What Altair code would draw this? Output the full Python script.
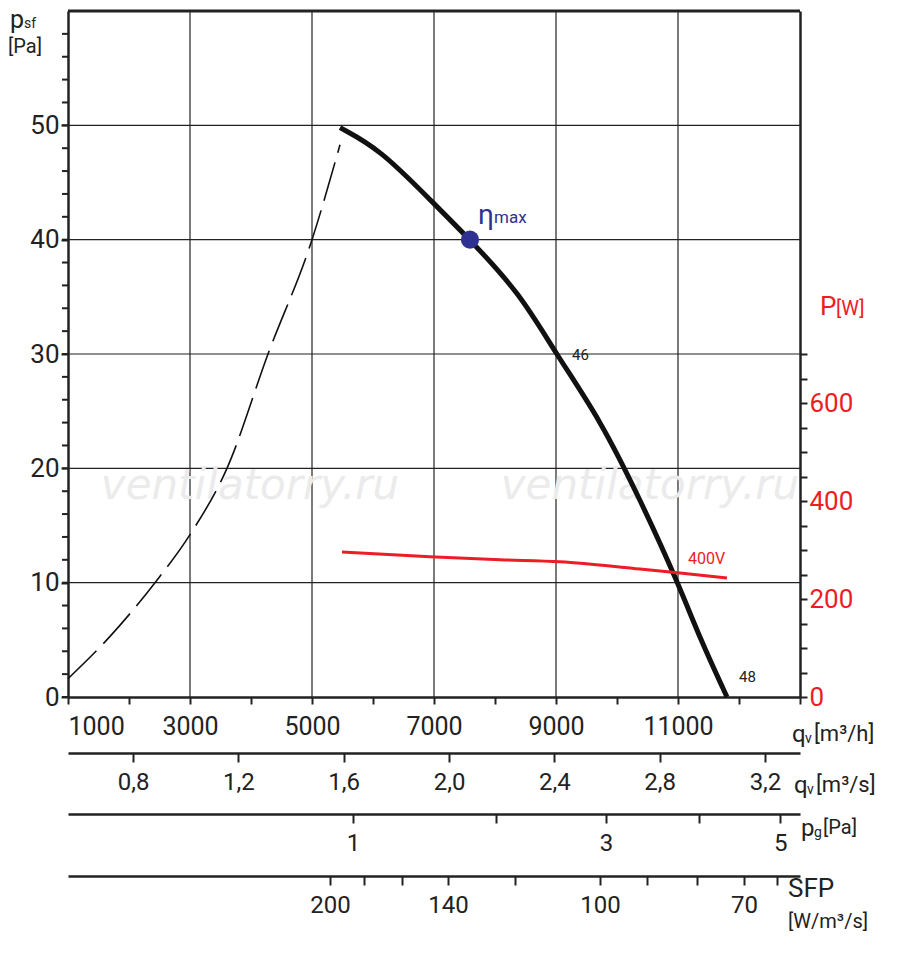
import pandas as pd
import altair as alt

FONT = "Roboto"

# characteristic, static pressure p_sf [Pa] vs air flow q_v [m3/h]
unstable_q = [1000, 1689, 2426, 3000, 3606, 4279, 5000, 5459]
unstable_p = [1.6, 5.3, 10.0, 14.2, 20.0, 30.0, 40.0, 48.3]
curve_q = [5459, 6115, 6934, 7590, 8410, 9000, 9721, 10377, 11000, 11361, 11803]
curve_p = [49.8, 47.9, 43.5, 40.0, 35.3, 30.0, 24.3, 17.3, 10.0, 5.1, 0.0]
# power P [W] at 400V
power_q = [5492, 6934, 8082, 9066, 10377, 11033, 11803]
power_w = [296, 286, 280, 276, 261, 253, 243]
eta_q, eta_p = 7590, 40

x_grid = [3000, 5000, 7000, 9000, 11000]
y_grid = [10, 20, 30, 40, 50]
y_labels = [0, 10, 20, 30, 40, 50]
x_ticks = list(range(1000, 13001, 500))
y_minor = list(range(0, 60, 2))
p_ticks = list(range(0, 701, 50))
qs_ticks = [0.8, 1.2, 1.6, 2.0, 2.4, 2.8, 3.2]
pg_ticks = [1, 2, 3, 4, 5]
sfp_ticks = [200, 180, 160, 140, 120, 100, 90, 80, 70, 65]

W, H = 732, 686
xs = alt.Scale(domain=[1000, 13000], nice=False, zero=False)
ys = alt.Scale(domain=[0, 60], nice=False)
ps = alt.Scale(domain=[0, 1400], nice=False)

unstable = pd.DataFrame({"q": unstable_q, "p": unstable_p})
curve = pd.DataFrame({"q": curve_q, "p": curve_p})
power = pd.DataFrame({"q": power_q, "w": power_w})

base_axis = dict(labelFont=FONT, labelColor="#222", domainColor="#222", labelOverlap=False,
                 domainWidth=2.5, tickColor="#222", tickWidth=2, grid=False, title=None)

grid_v = alt.Chart(pd.DataFrame({"q": x_grid})).mark_rule(color="#222", strokeWidth=1.2).encode(
    x=alt.X("q:Q", scale=xs, axis=alt.Axis(values=x_ticks, tickSize=7, labelPadding=10, labelFontSize=25,
            labelExpr="(datum.value-1000)%2000==0 && datum.value<=11000 ? datum.value : ''",
            **base_axis)))
grid_h = alt.Chart(pd.DataFrame({"p": y_grid})).mark_rule(color="#222", strokeWidth=1.2).encode(
    y=alt.Y("p:Q", scale=ys, axis=alt.Axis(values=y_labels, tickSize=7, labelFontSize=26, **base_axis)))
y_minor_ticks = alt.Chart(pd.DataFrame({"p": y_minor})).mark_rule(color="#222", strokeWidth=2).encode(
    y=alt.Y("p:Q", scale=ys), x=alt.value(-6), x2=alt.value(0))
top_border = alt.Chart(pd.DataFrame({"p": [60]})).mark_rule(color="#222", strokeWidth=3).encode(
    y=alt.Y("p:Q", scale=ys))

watermark = alt.Chart(pd.DataFrame({"t": ["ventilatorry.ru", "ventilatorry.ru"], "x": [3983, 10540]})).mark_text(
    font="DejaVu Sans", fontSize=42, fontStyle="italic", color="#ebebeb").encode(
    x=alt.X("x:Q", scale=xs), y=alt.value(475), text="t:N")

dashed = alt.Chart(unstable).mark_line(color="#111", strokeWidth=1.6, strokeDash=[40, 10],
                                       interpolate="monotone").encode(
    x=alt.X("q:Q", scale=xs), y=alt.Y("p:Q", scale=ys))
solid = alt.Chart(curve).mark_line(color="#111", strokeWidth=5, interpolate="basis").encode(
    x=alt.X("q:Q", scale=xs), y=alt.Y("p:Q", scale=ys))
eta = alt.Chart(pd.DataFrame({"q": [eta_q], "p": [eta_p]})).mark_point(
    filled=True, size=330, color="#2e3192", opacity=1).encode(
    x=alt.X("q:Q", scale=xs), y=alt.Y("p:Q", scale=ys))


def label(txt, q, p, size, color="#222", dx=0, dy=0, align="left"):
    return alt.Chart(pd.DataFrame({"q": [q], "p": [p], "t": [txt]})).mark_text(
        font=FONT, fontSize=size, color=color, align=align, dx=dx, dy=dy).encode(
        x=alt.X("q:Q", scale=xs), y=alt.Y("p:Q", scale=ys), text="t:N")


eta_txt = label("η", eta_q, eta_p, 28, "#2e3192", dx=8, dy=-24) + \
    label("max", eta_q, eta_p, 17, "#2e3192", dx=24, dy=-22)
lbl46 = label("46", 9000, 30, 15, dx=16, dy=1)
lbl48 = label("48", 11803, 0, 15, dx=12, dy=-20)

power_line = alt.Chart(power).mark_line(color="#ee1c25", strokeWidth=3, interpolate="monotone").encode(
    x=alt.X("q:Q", scale=xs),
    y=alt.Y("w:Q", scale=ps,
            axis=alt.Axis(orient="right", values=p_ticks, tickSize=7, labelFontSize=26,
                          labelExpr="datum.value%200==0 ? datum.value : ''",
                          **{**base_axis, "labelColor": "#ee1c25"})))
lbl400 = alt.Chart(pd.DataFrame({"q": [11033], "w": [253], "t": ["400V"]})).mark_text(
    font=FONT, fontSize=16, color="#ee1c25", align="left", dx=8, dy=-14).encode(
    x=alt.X("q:Q", scale=xs), y=alt.Y("w:Q", scale=ps), text="t:N")


def ptext(txt, x, y, size, color="#222", align="left"):
    return alt.Chart(pd.DataFrame({"t": [txt]})).mark_text(
        font=FONT, fontSize=size, color=color, align=align, baseline="middle").encode(
        x=alt.value(x), y=alt.value(y), text="t:N")


main_titles = (ptext("p", -58, 9, 25) + ptext("sf", -44, 13, 14) + ptext("[Pa]", -60, 36, 20)
               + ptext("P", 752, 296, 26, "#ee1c25") + ptext("[W]", 768, 298, 20, "#ee1c25")
               + ptext("q", 724, 724, 24) + ptext("v", 737, 728, 14) + ptext("[m³/h]", 746, 723, 22))

left = alt.layer(grid_v, grid_h, y_minor_ticks, top_border, watermark, dashed, solid, eta, eta_txt,
                 lbl46, lbl48, main_titles)
main = alt.layer(left, alt.layer(power_line, lbl400)).resolve_scale(y="independent").properties(
    width=W, height=H)


def sub_axis(values, scale, fmt_expr, h, titles):
    axis = alt.Axis(values=values, tickSize=9, labelPadding=8, labelFontSize=24,
                    labelExpr=fmt_expr, **base_axis)
    ticks = alt.Chart(pd.DataFrame({"v": values})).mark_tick(opacity=0).encode(
        x=alt.X("v:Q", scale=scale, axis=axis))
    return alt.layer(ticks, *titles).properties(width=W, height=h)


qs_scale = alt.Scale(domain=[0.553, 3.333], nice=False, zero=False)
pg_scale = alt.Scale(type="pow", exponent=0.5, domain=[0.0307, 5.258], nice=False, zero=False)
sfp_scale = alt.Scale(domain=[354] + sfp_ticks + [61.5],
                      range=[0, 262, 296, 334, 380, 447, 532, 579, 629, 676, 709, 732],
                      nice=False, zero=False)

sub1 = sub_axis(qs_ticks, qs_scale, "replace(format(datum.value, '.1f'), '.', ',')", 6,
                [ptext("q", 726, 39, 24), ptext("v", 739, 43, 14), ptext("[m³/s]", 748, 38, 22)])
sub2 = sub_axis(pg_ticks, pg_scale, "datum.value%2==1 ? datum.value : ''", 16,
                [ptext("p", 733, 31, 24), ptext("g", 746, 35, 14), ptext("[Pa]", 755, 30, 20)])
sub3 = sub_axis(sfp_ticks, sfp_scale,
                "indexof([200,140,100,70], datum.value) >= 0 ? datum.value : ''", 21,
                [ptext("SFP", 720, 34, 26), ptext("[W/m³/s]", 720, 67, 20)])

chart = alt.vconcat(main, sub1, sub2, sub3, spacing=0).configure_view(
    strokeWidth=0).configure_axis(labelOverlap=False).properties(
    padding={"left": 0, "top": 0, "right": 5, "bottom": 0})

chart.save("out.html", embed_options={"renderer": "svg", "actions": False})
